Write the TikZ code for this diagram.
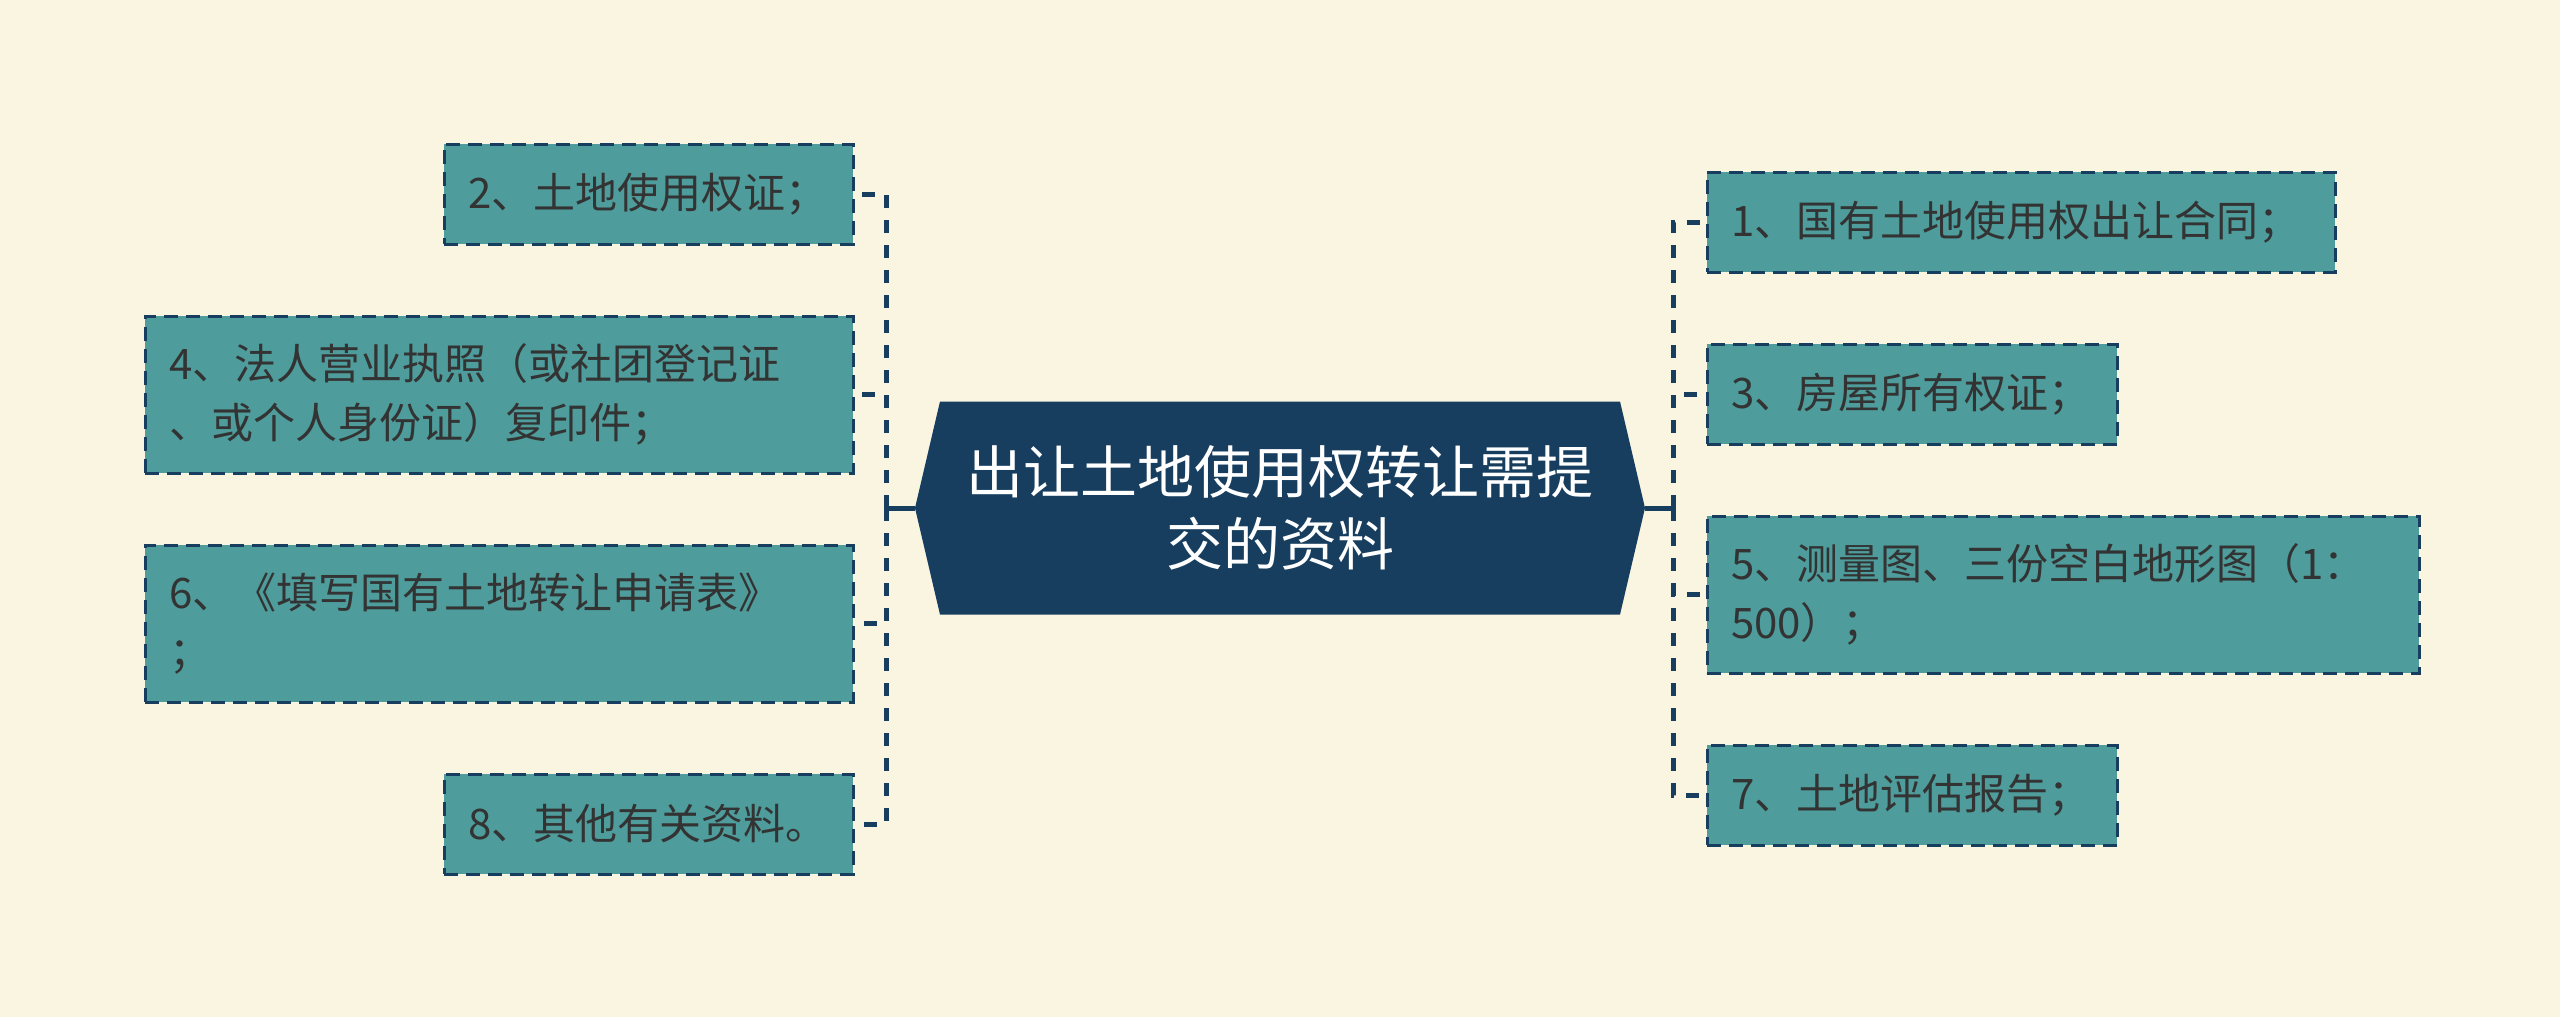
\documentclass[tikz,border=0pt]{standalone}
\usepackage{fontspec}
\newfontfamily\cjk{Noto Sans CJK SC}
\usetikzlibrary{shapes.symbols, positioning}
\definecolor{paper}{RGB}{250,245,225}
\definecolor{navy}{RGB}{23,62,94}
\definecolor{tealbox}{RGB}{78,156,155}
\definecolor{ink}{RGB}{51,51,51}

\begin{document}
\begin{tikzpicture}[node distance=72pt]
    \tikzset{
      hub/.style={signal, signal to=east and west, signal pointer angle=153.6,
        fill=navy, text=white, minimum width=730pt, minimum height=213pt,
        inner sep=0pt, outer sep=0pt, align=center, font=\cjk\fontsize{57pt}{72pt}\selectfont},
      item/.style={rectangle, draw=navy, line width=3pt, dash pattern=on 14pt off 8pt,
        fill=tealbox, text=ink, align=left, inner xsep=24pt, inner ysep=0pt, outer sep=0pt,
        minimum height=100pt, font=\cjk\fontsize{42pt}{59pt}\selectfont},
      trunk/.style={draw=navy, line width=5pt},
      link/.style={draw=navy, line width=5pt, dash pattern=on 13pt off 12pt}
    }
    \fill[paper] (0,0) rectangle (2560pt,-1017pt);
    \useasboundingbox (0,0) rectangle (2560pt,-1017pt);
    \node[hub] (hub) at (1280pt,-508pt) {出让土地使用权转让需提\\交的资料};
    \node[item, text width=361pt, anchor=north east] (b2) at (853pt,-144pt) {2、土地使用权证；};
    \node[item, text width=660pt, minimum height=157pt, below=of b2.south east, anchor=north east] (b4) {4、法人营业执照（或社团登记证\\、或个人身份证）复印件；};
    \node[item, text width=660pt, minimum height=157pt, below=of b4.south east, anchor=north east] (b6) {6、《填写国有土地转让申请表》\\；};
    \node[item, text width=361pt, below=of b6.south east, anchor=north east] (b8) {8、其他有关资料。};
    \node[item, text width=580pt, anchor=north west] (b1) at (1707pt,-172pt) {1、国有土地使用权出让合同；};
    \node[item, text width=362pt, below=of b1.south west, anchor=north west] (b3) {3、房屋所有权证；};
    \node[item, text width=664pt, minimum height=157pt, below=of b3.south west, anchor=north west] (b5) {5、测量图、三份空白地形图（1：\\500）；};
    \node[item, text width=362pt, below=of b5.south west, anchor=north west] (b7) {7、土地评估报告；};
    \coordinate (jl) at ([xshift=-29pt]hub.west);
    \coordinate (jr) at ([xshift=28pt]hub.east);
    \draw[trunk] (hub.west) -- (jl);
    \draw[trunk] (hub.east) -- (jr);
    \foreach \b in {b2,b4,b6,b8}
      \draw[link] (jl) |- (\b.east);
    \foreach \b in {b1,b3,b5,b7}
      \draw[link] (jr) |- (\b.west);
  \end{tikzpicture}
\end{document}
